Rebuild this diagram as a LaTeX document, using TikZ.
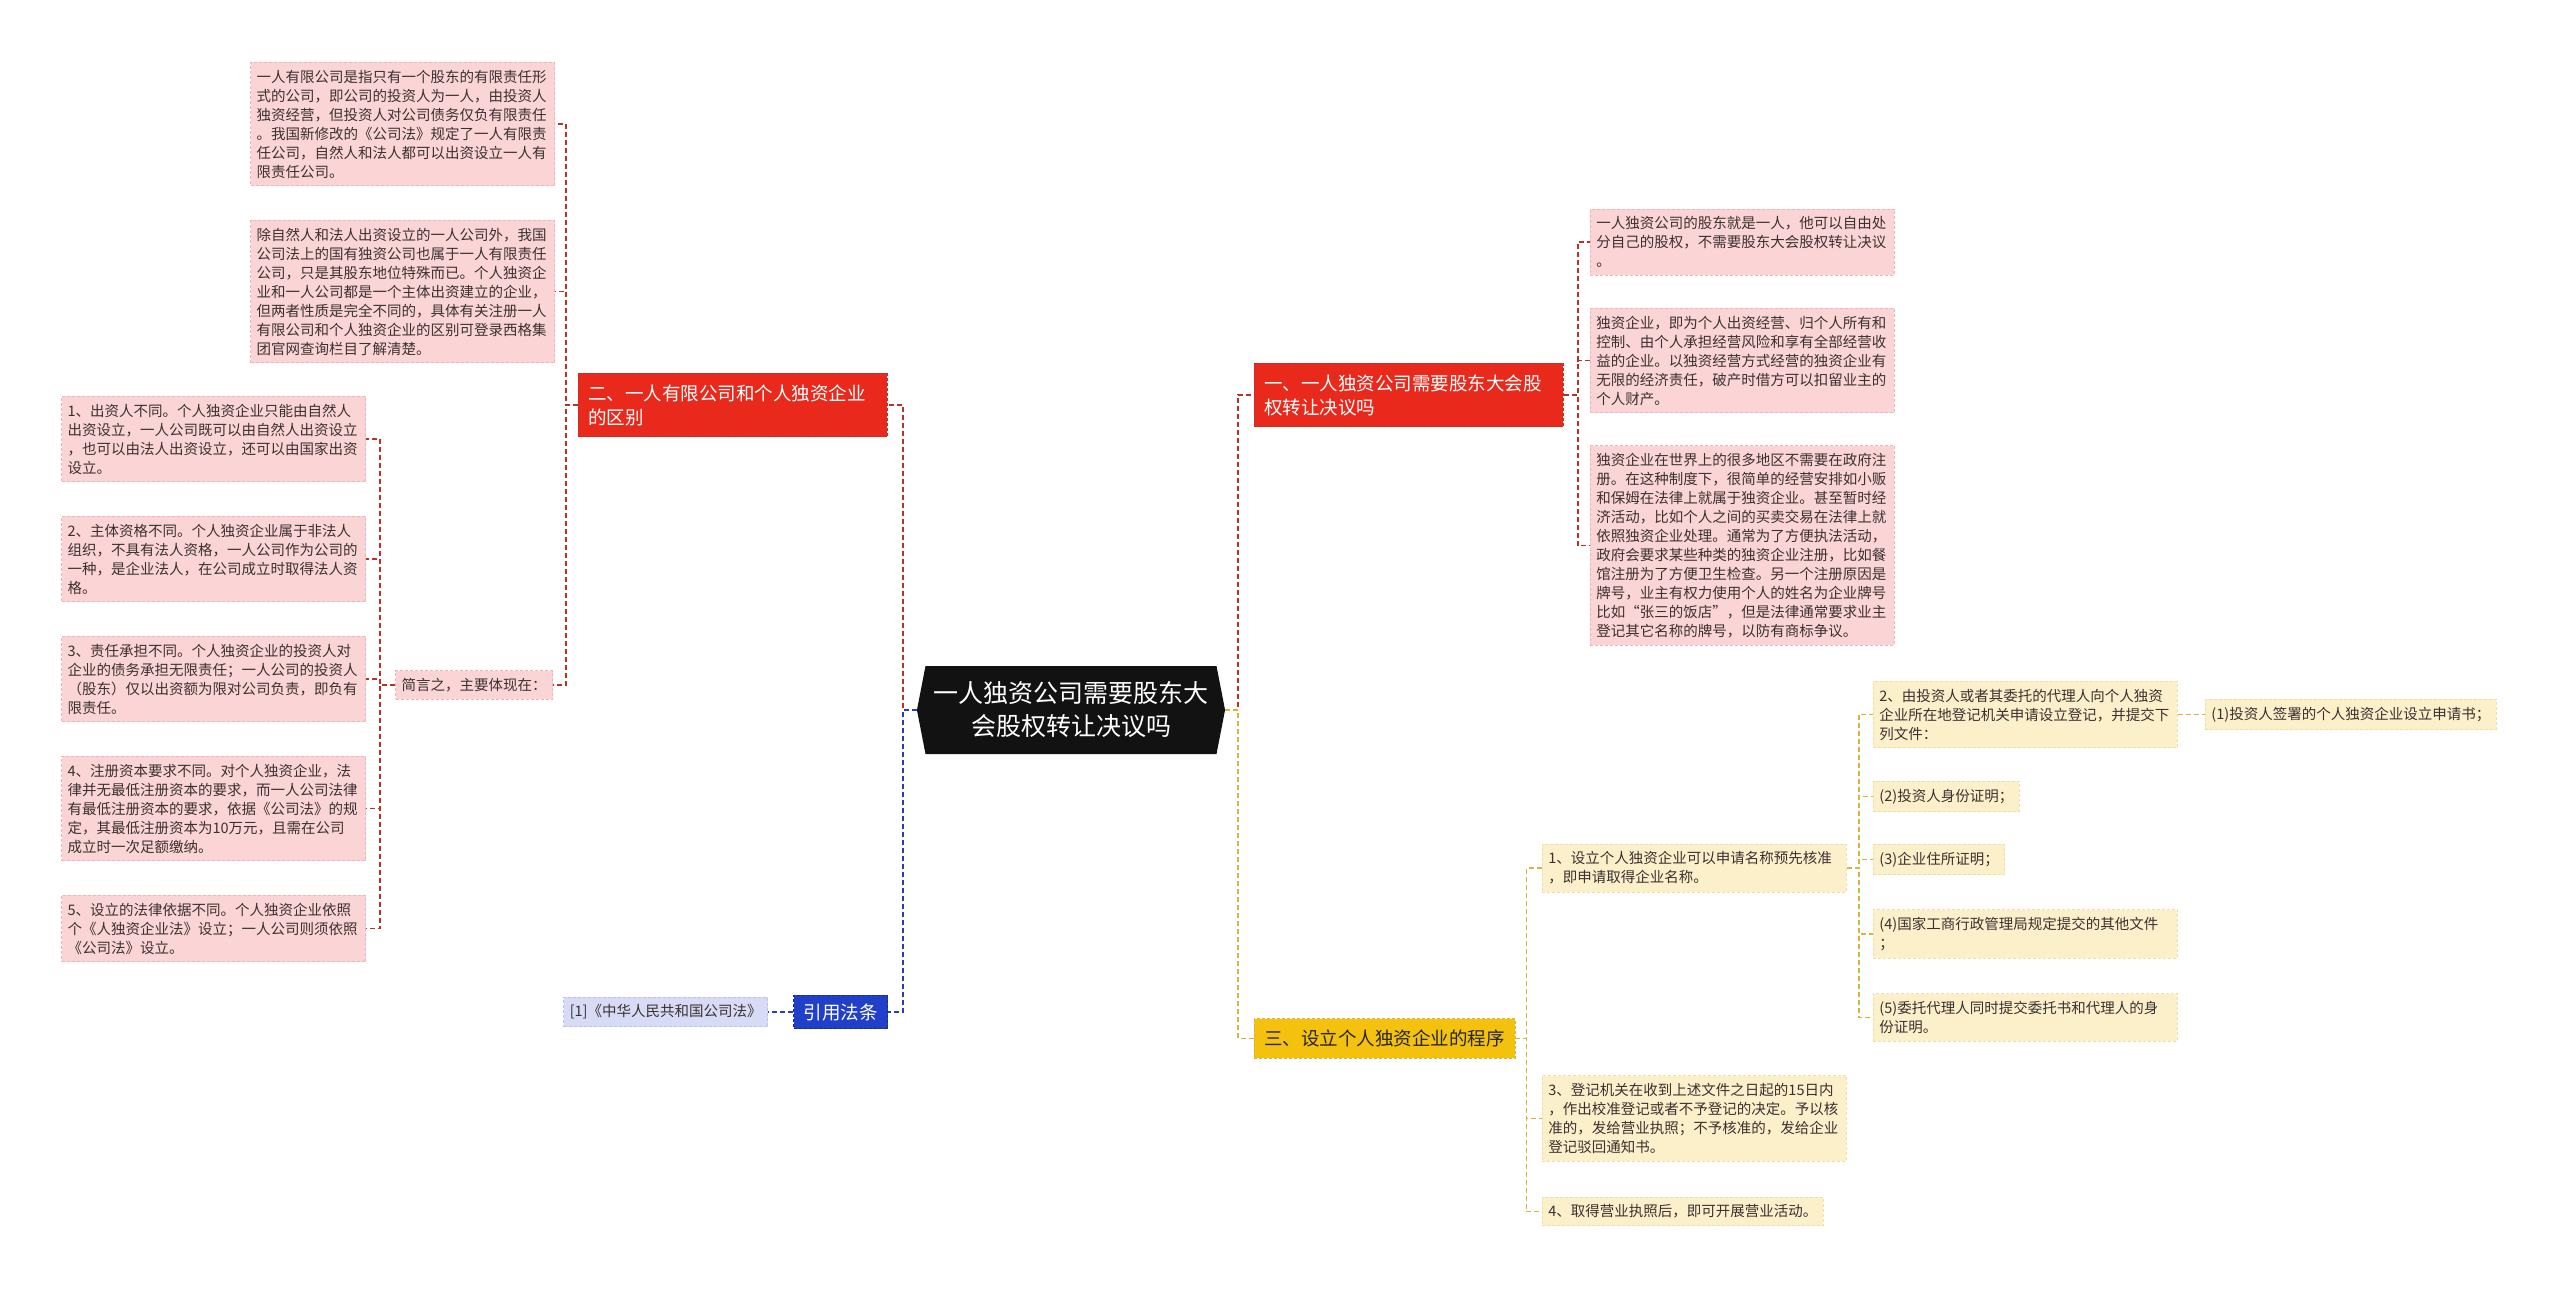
\documentclass[tikz,border=0pt]{standalone}
\usepackage{fontspec}
\setmainfont{Noto Sans CJK SC}
\usetikzlibrary{shapes.symbols}

\definecolor{redfill}{HTML}{E8291C}
\definecolor{redline}{HTML}{B8322A}
\definecolor{pinkfill}{HTML}{FBD5D5}
\definecolor{pinkline}{HTML}{F2B3B3}
\definecolor{bluefill}{HTML}{2140C9}
\definecolor{blueline}{HTML}{2A3DB8}
\definecolor{lavfill}{HTML}{D7DBF6}
\definecolor{lavline}{HTML}{BCC2EE}
\definecolor{goldfill}{HTML}{F3C10E}
\definecolor{goldline}{HTML}{D8B43C}
\definecolor{creamfill}{HTML}{FCF0CB}
\definecolor{creamline}{HTML}{F1DEA4}
\definecolor{textgrey}{HTML}{3B3030}

\begin{document}
\begin{tikzpicture}[x=1pt, y=-1pt,
	leaf/.style={rectangle, line width=0.8pt, dash pattern=on 3pt off 2pt, inner xsep=6pt, inner ysep=7.5pt, text=textgrey, font=\fontsize{14.5}{19}\selectfont},
	pinkleaf/.style={leaf, fill=pinkfill, draw=pinkline},
	creamleaf/.style={leaf, fill=creamfill, draw=creamline},
	lavleaf/.style={leaf, fill=lavfill, draw=lavline},
	wide/.style={text width=292pt, align=left},
	branch/.style={rectangle, line width=0.8pt, dash pattern=on 3pt off 2pt, inner xsep=10pt, inner ysep=11pt, font=\fontsize{18.5}{24}\selectfont},
	redbranch/.style={branch, fill=redfill, draw=redline, text=white, text width=289pt, align=left},
	goldbranch/.style={branch, fill=goldfill, draw=goldline, text=black!85},
	bluebranch/.style={branch, fill=bluefill, draw=blueline!70!black, text=white, inner ysep=8pt},
	centre/.style={signal, signal to=west and east, signal pointer angle=158, fill=black!93, text=white, font=\fontsize{25}{33}\selectfont, align=center, minimum height=88pt, inner xsep=8pt},
	link/.style={line width=1.6pt, dash pattern=on 5pt off 3pt},
	redlink/.style={link, draw=redline},
	bluelink/.style={link, draw=blueline},
	goldlink/.style={link, draw=goldline}]
		\useasboundingbox (0,0) rectangle (2560,1289);
		
		\node[centre] (c) at (1071,710) {一人独资公司需要股东大\\会股权转让决议吗};
		
		\node[redbranch, anchor=west] (b1) at (1254,395) {一、一人独资公司需要股东大会股\\权转让决议吗};
		\node[redbranch, anchor=west] (b2) at (578,405) {二、一人有限公司和个人独资企业\\的区别};
		\node[goldbranch, anchor=west] (b3) at (1254,1038.5) {三、设立个人独资企业的程序};
		\node[bluebranch, anchor=east] (b4) at (888,1012) {引用法条};
		
		\node[pinkleaf, wide, anchor=west] (r1) at (1590,242) {一人独资公司的股东就是一人，他可以自由处\\分自己的股权，不需要股东大会股权转让决议\\。};
		\node[pinkleaf, wide, anchor=west] (r2) at (1590,360.5) {独资企业，即为个人出资经营、归个人所有和\\控制、由个人承担经营风险和享有全部经营收\\益的企业。以独资经营方式经营的独资企业有\\无限的经济责任，破产时借方可以扣留业主的\\个人财产。};
		\node[pinkleaf, wide, anchor=west] (r3) at (1590,545.5) {独资企业在世界上的很多地区不需要在政府注\\册。在这种制度下，很简单的经营安排如小贩\\和保姆在法律上就属于独资企业。甚至暂时经\\济活动，比如个人之间的买卖交易在法律上就\\依照独资企业处理。通常为了方便执法活动，\\政府会要求某些种类的独资企业注册，比如餐\\馆注册为了方便卫生检查。另一个注册原因是\\牌号，业主有权力使用个人的姓名为企业牌号\\比如“张三的饭店”，但是法律通常要求业主\\登记其它名称的牌号，以防有商标争议。};
		
		\node[pinkleaf, wide, anchor=east] (l1) at (555,124) {一人有限公司是指只有一个股东的有限责任形\\式的公司，即公司的投资人为一人，由投资人\\独资经营，但投资人对公司债务仅负有限责任\\。我国新修改的《公司法》规定了一人有限责\\任公司，自然人和法人都可以出资设立一人有\\限责任公司。};
		\node[pinkleaf, wide, anchor=east] (l2) at (555,291.5) {除自然人和法人出资设立的一人公司外，我国\\公司法上的国有独资公司也属于一人有限责任\\公司，只是其股东地位特殊而已。个人独资企\\业和一人公司都是一个主体出资建立的企业，\\但两者性质是完全不同的，具体有关注册一人\\有限公司和个人独资企业的区别可登录西格集\\团官网查询栏目了解清楚。};
		\node[pinkleaf, anchor=east] (l3) at (553,685) {简言之，主要体现在：};
		
		\node[pinkleaf, wide, anchor=east] (n1) at (366,439) {1、出资人不同。个人独资企业只能由自然人\\出资设立，一人公司既可以由自然人出资设立\\，也可以由法人出资设立，还可以由国家出资\\设立。};
		\node[pinkleaf, wide, anchor=east] (n2) at (366,559) {2、主体资格不同。个人独资企业属于非法人\\组织，不具有法人资格，一人公司作为公司的\\一种，是企业法人，在公司成立时取得法人资\\格。};
		\node[pinkleaf, wide, anchor=east] (n3) at (366,679) {3、责任承担不同。个人独资企业的投资人对\\企业的债务承担无限责任；一人公司的投资人\\（股东）仅以出资额为限对公司负责，即负有\\限责任。};
		\node[pinkleaf, wide, anchor=east] (n4) at (366,808.5) {4、注册资本要求不同。对个人独资企业，法\\律并无最低注册资本的要求，而一人公司法律\\有最低注册资本的要求，依据《公司法》的规\\定，其最低注册资本为10万元，且需在公司\\成立时一次足额缴纳。};
		\node[pinkleaf, wide, anchor=east] (n5) at (366,928.5) {5、设立的法律依据不同。个人独资企业依照\\个《人独资企业法》设立；一人公司则须依照\\《公司法》设立。};
		
		\node[lavleaf, anchor=east] (f1) at (768,1012) {[1]《中华人民共和国公司法》};
		
		\node[creamleaf, wide, anchor=west] (p1) at (1542,868) {1、设立个人独资企业可以申请名称预先核准\\，即申请取得企业名称。};
		\node[creamleaf, wide, anchor=west] (p3) at (1542,1118.5) {3、登记机关在收到上述文件之日起的15日内\\，作出校准登记或者不予登记的决定。予以核\\准的，发给营业执照；不予核准的，发给企业\\登记驳回通知书。};
		\node[creamleaf, anchor=west] (p4) at (1542,1211.5) {4、取得营业执照后，即可开展营业活动。};
		
		\node[creamleaf, wide, anchor=west] (q1) at (1873,714.5) {2、由投资人或者其委托的代理人向个人独资\\企业所在地登记机关申请设立登记，并提交下\\列文件：};
		\node[creamleaf, anchor=west] (q2) at (1873,796.5) {(2)投资人身份证明；};
		\node[creamleaf, anchor=west] (q3) at (1873,859.5) {(3)企业住所证明；};
		\node[creamleaf, wide, anchor=west] (q4) at (1873,934) {(4)国家工商行政管理局规定提交的其他文件\\；};
		\node[creamleaf, wide, anchor=west] (q5) at (1873,1017.5) {(5)委托代理人同时提交委托书和代理人的身\\份证明。};
		\node[creamleaf, anchor=west] (q6) at (2205,714.5) {(1)投资人签署的个人独资企业设立申请书；};
		
		\draw[redlink] (c.east) -- ++(13,0) |- (b1.west);
		\draw[goldlink] (c.east) -- ++(13,0) |- (b3.west);
		\draw[redlink] (c.west) -- ++(-14,0) |- (b2.east);
		\draw[bluelink] (c.west) -- ++(-14,0) |- (b4.east);
		
		\draw[redlink] (b1.east) -- ++(14,0) |- (r1.west);
		\draw[redlink] (b1.east) -- ++(14,0) |- (r2.west);
		\draw[redlink] (b1.east) -- ++(14,0) |- (r3.west);
		
		\draw[redlink] (b2.west) -- ++(-12,0) |- (l1.east);
		\draw[redlink] (b2.west) -- ++(-12,0) |- (l2.east);
		\draw[redlink] (b2.west) -- ++(-12,0) |- (l3.east);
		
		\draw[redlink] (l3.west) -- ++(-15,0) |- (n1.east);
		\draw[redlink] (l3.west) -- ++(-15,0) |- (n2.east);
		\draw[redlink] (l3.west) -- ++(-15,0) |- (n3.east);
		\draw[redlink] (l3.west) -- ++(-15,0) |- (n4.east);
		\draw[redlink] (l3.west) -- ++(-15,0) |- (n5.east);
		
		\draw[bluelink] (b4.west) -- (f1.east);
		
		\draw[goldlink] (b3.east) -- ++(11,0) |- (p1.west);
		\draw[goldlink] (b3.east) -- ++(11,0) |- (p3.west);
		\draw[goldlink] (b3.east) -- ++(11,0) |- (p4.west);
		
		\draw[goldlink] (p1.east) -- ++(12,0) |- (q1.west);
		\draw[goldlink] (p1.east) -- ++(12,0) |- (q2.west);
		\draw[goldlink] (p1.east) -- ++(12,0) |- (q3.west);
		\draw[goldlink] (p1.east) -- ++(12,0) |- (q4.west);
		\draw[goldlink] (p1.east) -- ++(12,0) |- (q5.west);
		\draw[goldlink] (q1.east) -- (q6.west);
	\end{tikzpicture}
\end{document}
